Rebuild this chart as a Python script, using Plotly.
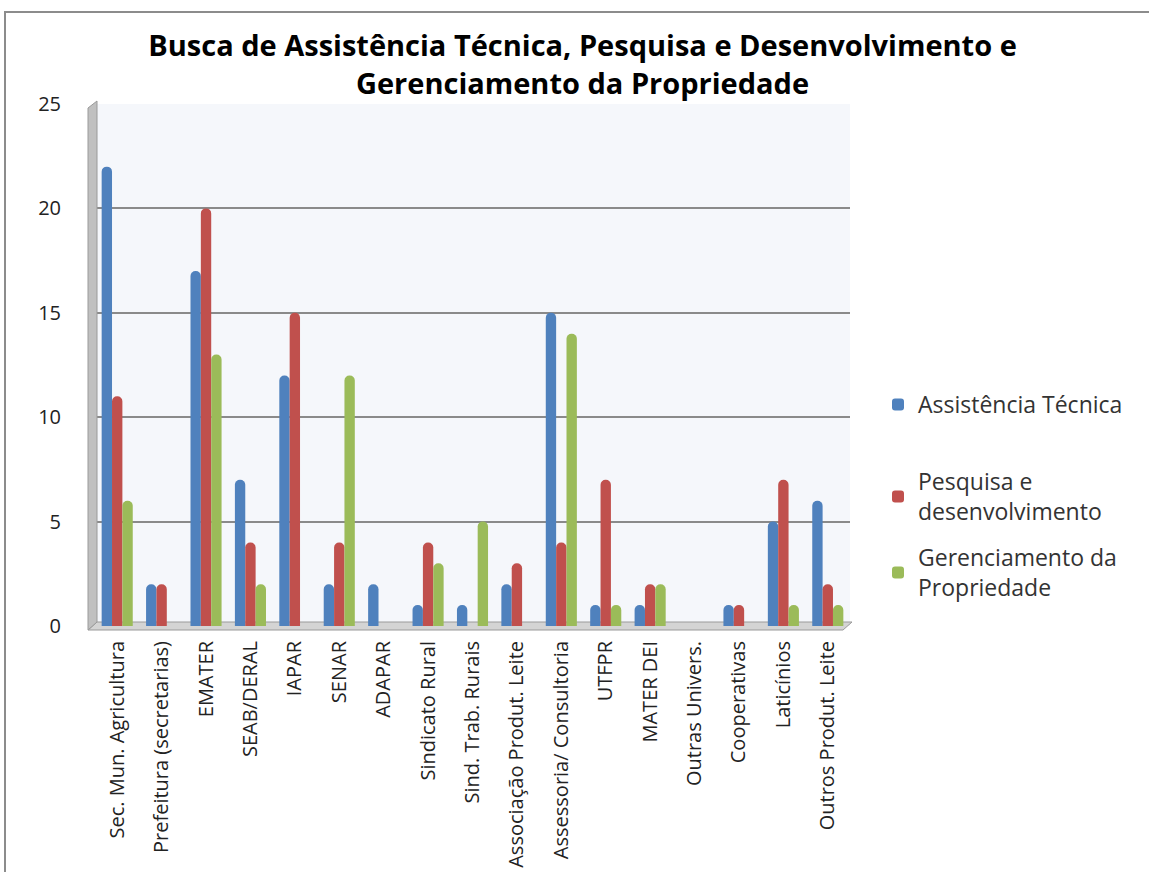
import plotly.graph_objects as go

categories = ["Sec. Mun. Agricultura", "Prefeitura (secretarias)", "EMATER", "SEAB/DERAL",
              "IAPAR", "SENAR", "ADAPAR", "Sindicato Rural", "Sind. Trab. Rurais",
              "Associação Produt. Leite", "Assessoria/ Consultoria", "UTFPR", "MATER DEI",
              "Outras Univers.", "Cooperativas", "Laticínios", "Outros Produt. Leite"]
assistencia = [22, 2, 17, 7, 12, 2, 2, 1, 1, 2, 15, 1, 1, 0, 1, 5, 6]
pesquisa = [11, 2, 20, 4, 15, 4, 0, 4, 0, 3, 4, 7, 2, 0, 1, 7, 2]
gerenciamento = [6, 0, 13, 2, 0, 12, 0, 3, 5, 0, 14, 1, 2, 0, 0, 1, 1]

series = [
    ("Assistência Técnica", assistencia, "#4F81BD"),
    ("Pesquisa e<br>desenvolvimento", pesquisa, "#C0504D"),
    ("Gerenciamento da<br>Propriedade", gerenciamento, "#9BBB59"),
]
legend_ids = ["legend", "legend2", "legend3"]

fig = go.Figure()
for i, (name, vals, col) in enumerate(series):
    fig.add_trace(go.Bar(x=categories, y=vals, name=name, legend=legend_ids[i],
                         marker=dict(color=col, line=dict(width=0))))

W, H = 1149, 872
L, R, T, B = 95, 299, 104, 246
pw, ph = W - L - R, H - T - B

def px(x):
    return (x - L) / pw

def py(y):
    return (H - B - y) / ph

font = "Open Sans"
leg_common = dict(x=px(878), xanchor="left", yanchor="top",
                  font=dict(size=23, color="#333333"), itemwidth=30,
                  bgcolor="rgba(0,0,0,0)")
fig.update_layout(
    width=W, height=H,
    margin=dict(l=L, r=R, t=T, b=B, autoexpand=False),
    paper_bgcolor="white",
    plot_bgcolor="#f5f7fb",
    barmode="group", bargap=0.3, bargroupgap=0.0,
    barcornerradius=5,
    title=dict(text="<b>Busca de Assistência Técnica, Pesquisa e Desenvolvimento e<br>Gerenciamento da Propriedade</b>",
               x=0.507, xanchor="center", y=0.936, yanchor="top",
               font=dict(family=font, size=29, color="#000000")),
    font=dict(family=font, size=17, color="#222222"),
    legend=dict(y=py(383), **leg_common),
    legend2=dict(y=py(460), **leg_common),
    legend3=dict(y=py(536), **leg_common),
    showlegend=True,
    xaxis=dict(tickangle=-90, showgrid=False, showline=False, ticks="",
               ticklabelstandoff=10, automargin=False,
               tickfont=dict(size=20, color="#222222")),
    yaxis=dict(range=[0, 25], dtick=5, showgrid=True, gridcolor="#8a8a8a", gridwidth=1.5,
               zeroline=False, showline=False, ticks="", ticklabelstandoff=33, automargin=False,
               tickfont=dict(size=20, color="#222222")),
    shapes=[
        # outer frame
        dict(type="rect", xref="paper", yref="paper", x0=px(5), x1=px(1200), y0=py(900), y1=py(12),
             line=dict(color="#8c8c8c", width=2), fillcolor="rgba(0,0,0,0)", layer="below"),
        # left wall
        dict(type="path", xref="paper", yref="paper",
             path=f"M {px(88)} {py(108)} L {px(97)} {py(101)} L {px(97)} {py(622)} L {px(88)} {py(630)} Z",
             fillcolor="#c0c0c0", line=dict(color="#9a9a9a", width=1), layer="above"),
        # floor
        dict(type="path", xref="paper", yref="paper",
             path=f"M {px(88)} {py(630)} L {px(97)} {py(622)} L {px(852)} {py(622)} L {px(843)} {py(630)} Z",
             fillcolor="#d4d4d4", line=dict(color="#9a9a9a", width=1), layer="below"),
    ],
)

fig.write_html("out.html")
